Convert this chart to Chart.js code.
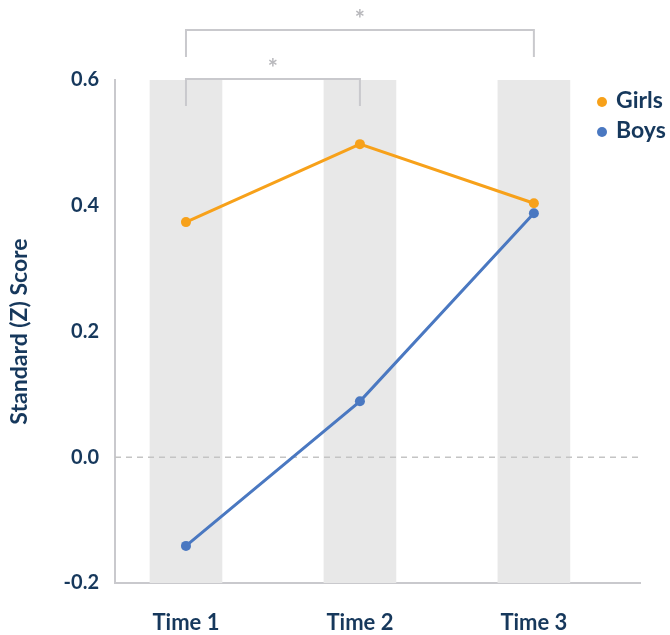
<!DOCTYPE html>
<html>
<head>
<meta charset="utf-8">
<script src="https://cdn.jsdelivr.net/npm/chart.js@4/dist/chart.umd.min.js"></script>
<style>
  html, body { margin: 0; padding: 0; background: #fff; }
  #wrap { width: 670px; height: 635px; }
</style>
</head>
<body>
<div id="wrap"><canvas id="myChart" width="670" height="635"></canvas></div>
<script>
// data
var timePoints = [1, 2, 3];
var timeLabels = ["Time 1", "Time 2", "Time 3"];
var girlsScores = [0.374, 0.498, 0.404];
var boysScores = [-0.141, 0.089, 0.388];
var yTicks = [-0.2, 0.0, 0.2, 0.4, 0.6];
// significance brackets: [from time, to time]
var brackets = [[1, 3], [1, 2]];

var navy = "#16385c";
var girlsColor = "#f7a11a";
var boysColor = "#4a78c1";
var bracketColor = "#c9c9cd";

function toPoints(values) {
  return timePoints.map(function (t, i) {
    return { x: t, y: values[i] };
  });
}

// extra drawing: zero line, brackets, legend
var extras = {
  id: "extras",
  afterDatasetDraw: function (chart, args) {
    // dashed zero line goes right after the gray bands
    if (args.meta.type !== "bar") return;
    var ctx = chart.ctx;
    var area = chart.chartArea;
    var y0 = chart.scales.y.getPixelForValue(0);
    ctx.save();
    ctx.strokeStyle = "#c4c4c4";
    ctx.lineWidth = 1.5;
    ctx.setLineDash([6, 5]);
    ctx.beginPath();
    ctx.moveTo(area.left, y0);
    ctx.lineTo(area.right, y0);
    ctx.stroke();
    ctx.restore();
  },
  afterDraw: function (chart) {
    var ctx = chart.ctx;
    var area = chart.chartArea;
    var xs = chart.scales.x;
    ctx.save();
    // brackets
    var levels = [area.top - 50, area.top - 1];
    brackets.forEach(function (b, i) {
      var x1 = xs.getPixelForValue(b[0]);
      var x2 = xs.getPixelForValue(b[1]);
      var y = levels[i];
      ctx.strokeStyle = bracketColor;
      ctx.lineWidth = 2;
      ctx.setLineDash([]);
      ctx.beginPath();
      ctx.moveTo(x1, y + 27);
      ctx.lineTo(x1, y);
      ctx.lineTo(x2, y);
      ctx.lineTo(x2, y + 27);
      ctx.stroke();
      ctx.fillStyle = "#b8b8bc";
      ctx.font = "bold 24px Lato";
      ctx.textAlign = "center";
      ctx.textBaseline = "middle";
      ctx.fillText("*", (x1 + x2) / 2, y - 10);
    });
    // legend
    var items = chart.data.datasets.filter(function (d) { return d.type === "line"; });
    items.forEach(function (d, i) {
      var y = area.top + 21 + i * 30;
      ctx.fillStyle = d.borderColor;
      ctx.beginPath();
      ctx.arc(area.right - 38, y + 1, 5, 0, Math.PI * 2);
      ctx.fill();
      ctx.fillStyle = navy;
      ctx.font = "bold 23px Lato";
      ctx.textAlign = "left";
      ctx.textBaseline = "middle";
      ctx.fillText(d.label, area.right - 24, y);
    });
    ctx.restore();
  }
};

var ctx = document.getElementById("myChart").getContext("2d");
var myChart = new Chart(ctx, {
  data: {
    datasets: [
      {
        type: "line",
        label: "Girls",
        data: toPoints(girlsScores),
        borderColor: girlsColor,
        backgroundColor: girlsColor,
        borderWidth: 3,
        pointRadius: 5,
        pointBorderWidth: 0,
        order: 2,
      },
      {
        type: "line",
        label: "Boys",
        data: toPoints(boysScores),
        borderColor: boysColor,
        backgroundColor: boysColor,
        borderWidth: 3,
        pointRadius: 5,
        pointBorderWidth: 0,
        order: 1,
      },
      {
        type: "bar",
        label: "bands",
        data: timePoints.map(function (t) {
          return { x: t, y: [yTicks[0], yTicks[yTicks.length - 1]] };
        }),
        backgroundColor: "#e8e8e8",
        barThickness: 72,
        order: 10,
      },
    ],
  },
  options: {
    responsive: false,
    animation: false,
    layout: { padding: { top: 80, right: 30, left: 0, bottom: 0 } },
    plugins: {
      legend: { display: false },
      tooltip: { enabled: false },
    },
    scales: {
      x: {
        type: "linear",
        min: 0.592,
        max: 3.61,
        offset: false,
        afterBuildTicks: function (scale) {
          scale.ticks = timePoints.map(function (t) { return { value: t }; });
        },
        ticks: {
          padding: 27,
          color: navy,
          font: { family: "Lato", weight: "bold", size: 22 },
          callback: function (v) {
            return timeLabels[timePoints.indexOf(v)];
          },
        },
        grid: { display: false, drawTicks: false, offset: false },
        border: { color: "#c9c9cd", width: 2 },
        afterFit: function (scale) { scale.height = 52; },
      },
      y: {
        min: yTicks[0],
        max: yTicks[yTicks.length - 1],
        afterBuildTicks: function (scale) {
          scale.ticks = yTicks.map(function (t) { return { value: t }; });
        },
        ticks: {
          padding: 16,
          color: navy,
          font: { family: "Lato", weight: "bold", size: 20 },
          callback: function (v) { return v.toFixed(1); },
        },
        title: {
          display: true,
          text: "Standard (Z) Score",
          color: navy,
          font: { family: "Lato", weight: "bold", size: 23 },
          padding: { top: 6, bottom: 0 },
        },
        grid: { display: false, drawTicks: false },
        border: { color: "#c9c9cd", width: 2 },
        afterFit: function (scale) { scale.width = 115; },
      },
    },
  },
  plugins: [extras],
});
</script>
</body>
</html>
